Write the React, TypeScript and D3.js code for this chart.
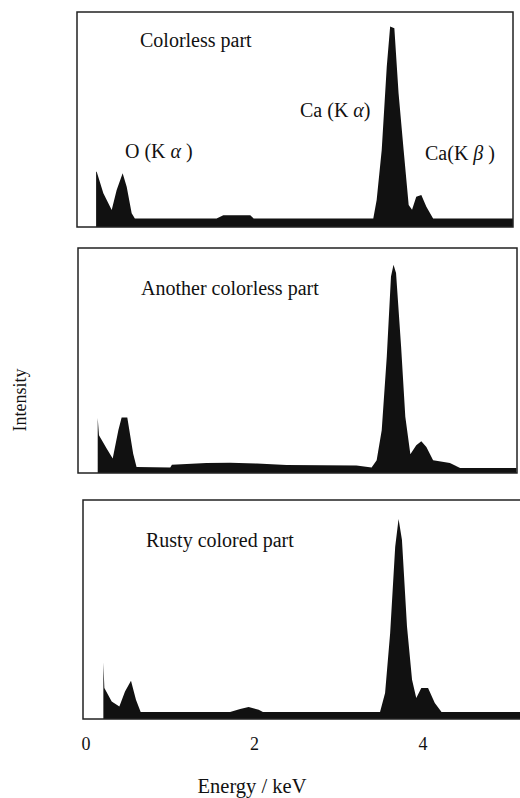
import React from "react";
import * as d3 from "d3";

// energy (keV) and intensity (% of panel height)
const colorlessE = [0.12, 0.127, 0.206, 0.305, 0.364, 0.435, 0.483, 0.542, 0.58, 1.55, 1.63, 1.95, 1.99, 3.41, 3.45, 3.51, 3.57, 3.61, 3.66, 3.71, 3.77, 3.83, 3.87, 3.92, 3.98, 4.04, 4.12, 5.07];
const colorlessI = [25.7, 25.7, 15.7, 7.9, 17.2, 25, 18.7, 6.4, 4, 4, 5.5, 5.5, 4, 4, 12.6, 35.8, 74.6, 93.2, 92.4, 62.2, 35.8, 10.2, 8, 14.1, 14.9, 9.4, 4, 4];

const anotherE = [0.139, 0.154, 0.245, 0.317, 0.384, 0.423, 0.49, 0.56, 0.6, 1.0, 1.02, 1.43, 1.71, 2.03, 2.38, 3.21, 3.39, 3.45, 3.51, 3.57, 3.62, 3.65, 3.68, 3.74, 3.79, 3.85, 3.92, 3.98, 4.04, 4.12, 4.32, 4.44, 5.11];
const anotherI = [24.5, 16.8, 10.9, 6.4, 19, 24.7, 24.7, 8.6, 2.7, 2.4, 3.7, 4.5, 4.6, 4.2, 3.6, 3.3, 2.4, 5.7, 19, 51.7, 87.3, 92.6, 88.9, 56.2, 25, 8.3, 12.3, 14.1, 11.6, 5.7, 4.5, 2.2, 2.2];

const rustyE = [0.206, 0.218, 0.305, 0.396, 0.463, 0.534, 0.593, 0.649, 1.71, 1.83, 1.93, 2.05, 2.1, 3.49, 3.55, 3.61, 3.67, 3.71, 3.75, 3.81, 3.87, 3.92, 3.98, 4.06, 4.14, 4.22, 5.3];
const rustyI = [25.8, 14.1, 8, 5.7, 12.6, 17.5, 8.8, 3.2, 3.2, 4.6, 5.5, 4.2, 3.2, 3.2, 11.9, 39.2, 78.7, 91.3, 81.8, 42.2, 17.9, 9.6, 14.1, 14.1, 7.3, 3.2, 3.2];

const tickValues = [0, 2, 4];
const panelTitles = ["Colorless part", "Another colorless part", "Rusty colored part"];

const FONT = "'Liberation Serif', 'DejaVu Serif', serif";

// frame of each panel on the page (the scan is a little skewed)
const frames = [
  { left: 77, right: 513, top: 12, bottom: 227 },
  { left: 78, right: 517, top: 248, bottom: 473 },
  { left: 83, right: 524, top: 500, bottom: 719 },
];

const series = [
  { e: colorlessE, i: colorlessI },
  { e: anotherE, i: anotherI },
  { e: rustyE, i: rustyI },
];

const x = d3.scaleLinear().domain([0, 4]).range([86, 423]);

const Greek = ({ ch }: { ch: string }) => (
  <tspan fontStyle="italic">{ch}</tspan>
);

const Panel = ({ idx }: { idx: number }) => {
  const f = frames[idx];
  const s = series[idx];
  const y = d3.scaleLinear().domain([0, 100]).range([f.bottom, f.top]);
  const pts = s.e.map((e, k) => [e, s.i[k]] as [number, number]);
  const area = d3
    .area<[number, number]>()
    .x((d) => x(d[0]))
    .y0(y(0))
    .y1((d) => y(d[1]));
  const clipId = `clip${idx}`;
  return (
    <g>
      <clipPath id={clipId}>
        <rect x={f.left} y={f.top} width={f.right - f.left} height={f.bottom - f.top} />
      </clipPath>
      <path d={area(pts) || ""} fill="#111" clipPath={`url(#${clipId})`} />
      <rect
        x={f.left}
        y={f.top}
        width={f.right - f.left}
        height={f.bottom - f.top}
        fill="none"
        stroke="#222"
        strokeWidth={1.5}
      />
      <text x={f.left + 63} y={f.top + (idx === 0 ? 35 : 47)} fontSize={20}>
        {panelTitles[idx]}
      </text>
    </g>
  );
};

export default function App() {
  return (
    <svg
      width={520}
      height={798}
      style={{ position: "absolute", left: 0, top: 0, background: "#fff" }}
      fontFamily={FONT}
      fill="#111"
    >
      <rect width={520} height={798} fill="#fff" />
      {[0, 1, 2].map((k) => (
        <Panel key={k} idx={k} />
      ))}

      {/* peak labels on the first panel */}
      <text x={125} y={158} fontSize={20}>
        O (K <Greek ch="α" /> )
      </text>
      <text x={300} y={117} fontSize={20}>
        Ca (K <Greek ch="α" />)
      </text>
      <text x={425} y={160} fontSize={20}>
        Ca(K <Greek ch="β" /> )
      </text>

      {tickValues.map((t) => (
        <text key={t} x={x(t)} y={750} fontSize={18} textAnchor="middle">
          {t}
        </text>
      ))}
      <text x={252} y={793} fontSize={20.5} textAnchor="middle">
        Energy / keV
      </text>
      <text
        transform="translate(26,400) rotate(-90)"
        fontSize={18}
        textAnchor="middle"
      >
        Intensity
      </text>
    </svg>
  );
}
